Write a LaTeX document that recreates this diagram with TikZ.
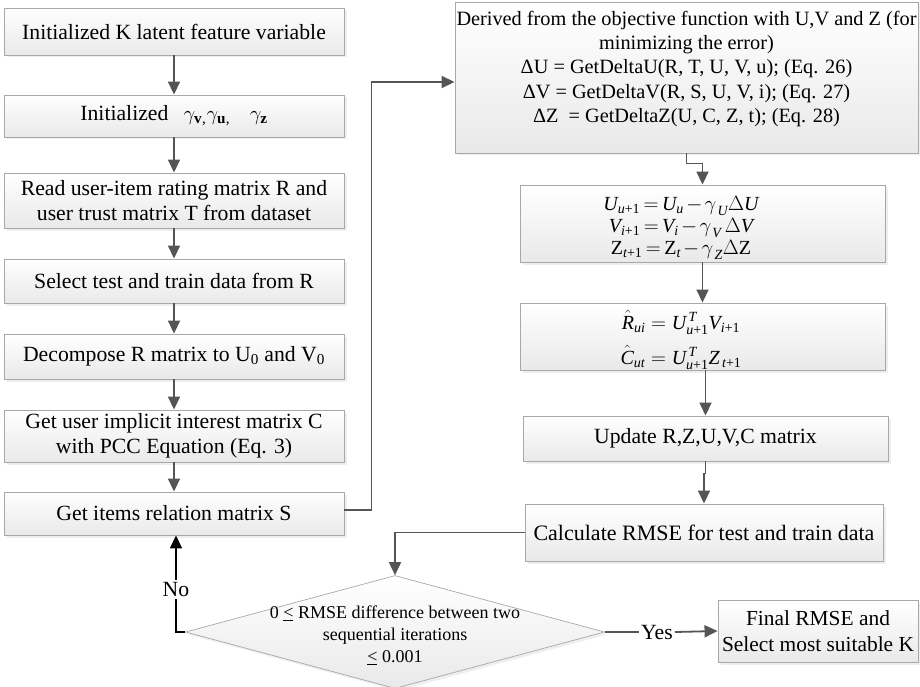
\documentclass[tikz,border=0pt]{standalone}
\usepackage{amsmath}
\usepackage{fontspec}
\setmainfont{Liberation Serif}
\usetikzlibrary{arrows.meta,shapes.geometric,shadows}

\definecolor{linegray}{HTML}{555555}
\definecolor{edgegray}{HTML}{A8A8A8}
\definecolor{fillbot}{HTML}{E9E9E9}

% "less than" with a flat bar underneath
\newcommand{\leqflat}{\makebox[0pt][l]{\rule[-1.8pt]{0.52em}{0.7pt}}<}
% tight spacing for the update formulas
\newcommand{\tightmath}{\thickmuskip=3mu plus 1mu\medmuskip=2mu}
% step size with a dropped subscript
\newcommand{\stepsize}[1]{\gamma_{\,\lower2.5pt\hbox{$\scriptstyle\textit{#1}$}}}

\tikzset{
  box/.style={draw=edgegray, line width=0.9pt, top color=white, bottom color=fillbot,
    drop shadow={shadow xshift=2.5pt, shadow yshift=-2.5pt, fill=black!13},
    align=center, inner sep=2pt, font=\fontsize{21.7}{25}\selectfont},
  leftbox/.style={box, minimum width=340pt},
  rightbox/.style={box, minimum width=365pt},
  decision/.style={box, shape=diamond, inner sep=0pt, line width=0.7pt},
  plaintext/.style={align=center, inner sep=2pt, font=\fontsize{21.7}{25}\selectfont},
  conn/.style={draw=linegray, line width=1.8pt, -{Triangle[length=13pt,width=12pt]}},
  connplain/.style={draw=linegray, line width=1.8pt},
  backconn/.style={draw=black, line width=1.8pt, -{Triangle[length=13pt,width=12pt]}},
}

\begin{document}
\begin{tikzpicture}[x=1pt, y=-1pt]
\useasboundingbox (0,0) rectangle (920,687);

% ---- left column ----
\node[leftbox, minimum height=47pt] (b1) at (174,31.5) {Initialized K latent feature variable};
\node[leftbox, minimum height=42pt] (b2) at (174,116)
  {Initialized\hspace{0.7em}$\gamma_{\mathbf{v}}$\textsubscript{,}$\gamma_{\mathbf{u}}$\textsubscript{,}\hspace{0.9em}$\gamma_{\mathbf{z}}$};
\node[leftbox, minimum height=55pt] (b3) at (174,200.5) {Read user-item rating matrix R and\\user trust matrix T from dataset};
\node[leftbox, minimum height=44pt] (b4) at (174,281) {Select test and train data from R};
\node[leftbox, minimum height=45pt] (b5) at (174,356.5) {Decompose R matrix to U\textsubscript{0} and V\textsubscript{0}};
\node[leftbox, minimum height=52pt] (b6) at (174,436) {Get user implicit interest matrix C\\with PCC Equation (Eq. 3)};
\node[leftbox, minimum height=43pt] (b7) at (174,513.5) {Get items relation matrix S};

% ---- right column ----
\node[box, minimum width=463pt, minimum height=151pt] (derive) at (686.5,77.5) {};
\node[plaintext, font=\fontsize{20.3}{24.2}\selectfont] (deriveText) at (686.5,69)
  {Derived from the objective function with U,V and Z (for\\
   minimizing the error)\\
   ΔU = GetDeltaU(R, T, U, V, u); (Eq. 26)\\
   ΔV = GetDeltaV(R, S, U, V, i); (Eq. 27)\\
   ΔZ\ \ = GetDeltaZ(U, C, Z, t); (Eq. 28)};

\node[rightbox, minimum height=77pt] (eq1) at (702.5,223.5) {};
\node[plaintext, font=\fontsize{20}{22}\selectfont\tightmath] (eq1Text) at (681,228)
  {$\textit{U}_{\textit{u}\textrm{+1}} = \textit{U}_{\textit{u}} - \stepsize{U}\Delta\textit{U}$\\
   $\textit{V}_{\textit{i}\textrm{+1}} = \textit{V}_{\textit{i}} - \stepsize{V}\,\Delta\textit{V}$\\
   $\textrm{Z}_{\textit{t}\textrm{+1}} = \textrm{Z}_{\textit{t}} - \stepsize{Z}\Delta\textrm{Z}$};

\node[rightbox, minimum height=67pt] (eq2) at (702.5,336.5) {};
\node[plaintext, font=\fontsize{20}{35}\selectfont] (eq2Text) at (681,340)
  {$\hat{\textit{R}}_{\textit{ui}} = \textit{U}^{\,\textit{T}}_{\textit{u}\textrm{+1}}\textit{V}_{\textit{i}\textrm{+1}}$\\
   $\hat{\textit{C}}_{\textit{ut}} = \textit{U}^{\,\textit{T}}_{\textit{u}\textrm{+1}}\textit{Z}_{\,\textit{t}\textrm{+1}}$};

\node[rightbox, minimum height=45pt] (upd) at (705.5,438.5) {Update R,Z,U,V,C matrix};
\node[box, minimum width=358pt, minimum height=57pt, font=\fontsize{22}{25}\selectfont] (calc) at (704,532.5) {Calculate RMSE for test and train data};

% ---- decision and end ----
\node[decision, minimum width=419pt, minimum height=113pt] (dia) at (395,632) {};
\node[align=center, inner sep=0pt, font=\fontsize{18}{22}\selectfont] (diaText) at (395,635)
  {0 \leqflat\ RMSE difference between two\\sequential iterations\\\leqflat\ 0.001};

\node[box, minimum width=200pt, minimum height=62pt, font=\fontsize{21.4}{25.5}\selectfont] (fin) at (818,631) {Final RMSE and\\Select most suitable K};
\node[plaintext] (yes) at (657,632) {Yes};

% ---- connectors ----
\draw[conn] (b1) -- (b2);
\draw[conn] (b2) -- (b3);
\draw[conn] (b3) -- (b4);
\draw[conn] (b4) -- (b5);
\draw[conn] (b5) -- (b6);
\draw[conn] (b6) -- (b7);
\draw[conn] ([yshift=3.5pt]b7.east) -- ++(27,0) |- ([yshift=-4.5pt]derive.west);
\draw[conn] (derive.south) -- ++(0,10) -| (eq1.north);
\draw[conn] (eq1) -- (eq2);
\draw[conn] (upd.north |- eq2.south) -- (upd.north);
\draw[conn] (upd.south) -- ++(0,12) -| (calc.north);
\draw[conn] (calc.west) -| (dia.north);
\draw[connplain] (dia.east) -- (yes.west);
\draw[conn] (yes.east) -- (fin.west);
\draw[backconn] (dia.west) -| node[pos=0.72, fill=white, inner sep=2pt, font=\fontsize{21.7}{25}\selectfont] (no) {No} ([xshift=2pt]b7.south);

\end{tikzpicture}
\end{document}
